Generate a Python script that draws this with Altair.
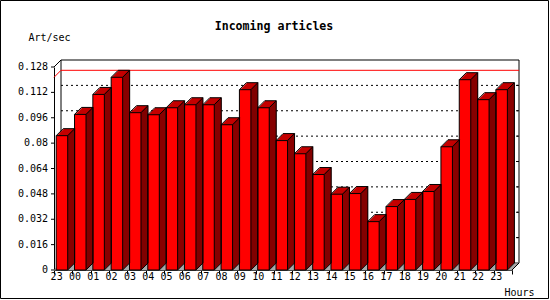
import altair as alt
import pandas as pd

hours = ["23", "00", "01", "02", "03", "04", "05", "06", "07", "08", "09", "10",
         "11", "12", "13", "14", "15", "16", "17", "18", "19", "20", "21", "22", "23"]
rate = [0.0847, 0.0981, 0.1107, 0.1215, 0.0992, 0.0979, 0.1023, 0.1042, 0.1042,
        0.0916, 0.1137, 0.1023, 0.0816, 0.0733, 0.0602, 0.0478, 0.0482, 0.0305,
        0.0400, 0.0445, 0.0495, 0.0777, 0.1200, 0.1074, 0.1137]
y_ticks = [0, 0.016, 0.032, 0.048, 0.064, 0.08, 0.096, 0.112, 0.128]
grid_vals = [0.016, 0.032, 0.048, 0.064, 0.08, 0.096, 0.112]
title_text = ["Incoming articles"]

keys = [f"{h}_{i}" for i, h in enumerate(hours)]
df = pd.DataFrame({"key": keys, "rate": rate})
grid_df = pd.DataFrame({"g": grid_vals})
ytick_df = pd.DataFrame({"v": y_ticks})
one = pd.DataFrame({"z": [0]})
title_df = pd.DataFrame({"t": title_text})

W, H = 458, 203
PAD_L, PAD_T = 54, 67
D = 7          # 3D depth in px
BW = 11.5      # front width of bar
XO = -1.2      # bar centre offset within band
FRONT = "#FF0000"
SIDE = "#800000"
TOP = "#C40000"
FLOOR = "#8C8C8C"
MONO = "DejaVu Sans Mono"

xscale = alt.Scale(domain=keys, paddingInner=0, paddingOuter=0)
yscale = alt.Scale(domain=[0, 0.128], nice=False, zero=True)

X = alt.X("key:N", scale=xscale, sort=keys, title="Hours",
          axis=alt.Axis(tickBand="extent", labelAngle=0, tickSize=4, labelPadding=2,
                        labelExpr="split(datum.label, '_')[0]", labelOffset=-1,
                        labelFlush=False,
                        titleAlign="right", titleBaseline="middle", titleX=480, titleY=22))
Y = alt.Y("rate:Q", scale=yscale, title="Art/sec",
          axis=alt.Axis(values=y_ticks, labels=False, ticks=False, grid=False,
                        titleAngle=0, titleAlign="left", titleBaseline="middle",
                        titleX=-26, titleY=-30))

layers = []

# back wall
layers.append(alt.Chart(one).mark_rect(fill="white", stroke="black", strokeWidth=1,
                                       xOffset=D, x2Offset=D, yOffset=-D, y2Offset=-D).encode(
    x=alt.value(0), x2=alt.value(W), y=alt.datum(0.128), y2=alt.datum(0)))

# floor
for i in range(0, D + 1):
    layers.append(alt.Chart(one).mark_rule(color=FLOOR, strokeWidth=1.2,
                                           xOffset=i, x2Offset=i, yOffset=-i).encode(
        x=alt.value(0), x2=alt.value(W), y=alt.datum(0)))

# dotted gridlines on back wall
layers.append(alt.Chart(grid_df).mark_rule(color="black", strokeDash=[2, 3], strokeWidth=1,
                                           xOffset=D, x2Offset=D, yOffset=-D).encode(
    x=alt.value(0), x2=alt.value(W), y="g:Q"))
layers.append(alt.Chart(grid_df).mark_rule(color="black", strokeWidth=1,
                                           xOffset=D, x2Offset=D, yOffset=-D).encode(
    x=alt.value(W - 2), x2=alt.value(W), y="g:Q"))

# maximum line (red)
layers.append(alt.Chart(df).transform_aggregate(m="max(rate)").mark_rule(
    color="red", strokeWidth=1, xOffset=D, x2Offset=D, yOffset=-D).encode(
    x=alt.value(0), x2=alt.value(W), y="m:Q"))
layers.append(alt.Chart(df).transform_aggregate(m="max(rate)").mark_rule(
    color="red", strokeWidth=1, x2Offset=D, y2Offset=-D).encode(
    x=alt.value(0), x2=alt.value(0), y="m:Q", y2="m:Q"))

# wall diagonals
layers.append(alt.Chart(one).mark_rule(color="black", x2Offset=D, y2Offset=-D).encode(
    x=alt.value(0), x2=alt.value(0), y=alt.datum(0.128), y2=alt.datum(0.128)))
layers.append(alt.Chart(one).mark_rule(color="black", x2Offset=D, y2Offset=-D).encode(
    x=alt.value(W), x2=alt.value(W), y=alt.datum(0), y2=alt.datum(0)))

bars = alt.Chart(df)
# top face (offset copies)
for i in range(D, 0, -1):
    layers.append(bars.mark_bar(color=TOP, width=BW, xOffset=XO + i,
                                yOffset=-i, y2Offset=-i).encode(x="key:N", y="rate:Q", y2=alt.datum(0)))
# side face columns
for j in range(D):
    layers.append(bars.mark_bar(color=SIDE, width=1.2, xOffset=XO + BW / 2 + j + 0.5,
                                yOffset=-(j + 1), y2Offset=-(j + 1)).encode(
        x="key:N", y="rate:Q", y2=alt.datum(0)))
# front face
layers.append(bars.mark_bar(color=FRONT, stroke="black", strokeWidth=1, width=BW,
                            xOffset=XO).encode(x=X, y=Y))
# edges
edge = dict(color="black", strokeWidth=1)
layers.append(bars.mark_rule(**edge, xOffset=XO - BW / 2 + D, x2Offset=XO + BW / 2 + D,
                             yOffset=-D, y2Offset=-D).encode(
    x="key:N", x2="key", y="rate:Q", y2="rate"))
layers.append(bars.mark_rule(**edge, xOffset=XO + BW / 2 + D, yOffset=-D, y2Offset=-D).encode(
    x="key:N", y="rate:Q", y2=alt.datum(0)))
layers.append(bars.mark_rule(**edge, xOffset=XO - BW / 2, x2Offset=XO - BW / 2 + D,
                             y2Offset=-D).encode(x="key:N", x2="key", y="rate:Q", y2="rate"))
layers.append(bars.mark_rule(**edge, xOffset=XO + BW / 2, x2Offset=XO + BW / 2 + D,
                             y2Offset=-D).encode(x="key:N", x2="key", y="rate:Q", y2="rate"))
layers.append(bars.mark_rule(**edge, xOffset=XO + BW / 2, x2Offset=XO + BW / 2 + D,
                             yOffset=0, y2Offset=-D).encode(
    x="key:N", x2="key", y=alt.datum(0), y2=alt.datum(0)))

# y ticks and labels (front axis)
layers.append(alt.Chart(ytick_df).mark_rule(color="black", strokeWidth=1).encode(
    x=alt.value(-3), x2=alt.value(0), y="v:Q"))
layers.append(alt.Chart(ytick_df).transform_calculate(
    lbl="format(datum.v, '.3~f')").mark_text(
    font=MONO, fontSize=10, color="black", align="right", baseline="middle", dx=-6).encode(
    x=alt.value(0), y="v:Q", text="lbl:N"))

# chart title
layers.append(alt.Chart(title_df).mark_text(font=MONO, fontSize=11.6, fontWeight="bold",
                                            color="black", align="center", baseline="middle").encode(
    text="t:N", x=alt.value(274 - PAD_L), y=alt.value(27 - PAD_T)))

# outer border
layers.append(alt.Chart(one).mark_rect(fill=None, stroke="black", strokeWidth=1).encode(
    x=alt.value(-PAD_L + 0.5), x2=alt.value(550 - PAD_L - 1.5),
    y=alt.value(-PAD_T + 0.5), y2=alt.value(300 - PAD_T - 1.5)))

chart = alt.layer(*layers).properties(
    width=W, height=H,
    autosize=alt.AutoSizeParams(type="none"),
    padding={"left": PAD_L, "top": PAD_T, "right": 550 - PAD_L - W, "bottom": 300 - PAD_T - H},
    background="white",
).configure_view(stroke=None).configure_axis(
    labelOverlap=False, labelFont=MONO, labelFontSize=10, labelColor="black",
    tickColor="black", domainColor="black", titleFont=MONO, titleFontSize=10,
    titleFontWeight="normal", titleColor="black",
)

chart.save("out.html", embed_options={"renderer": "svg", "actions": False})
